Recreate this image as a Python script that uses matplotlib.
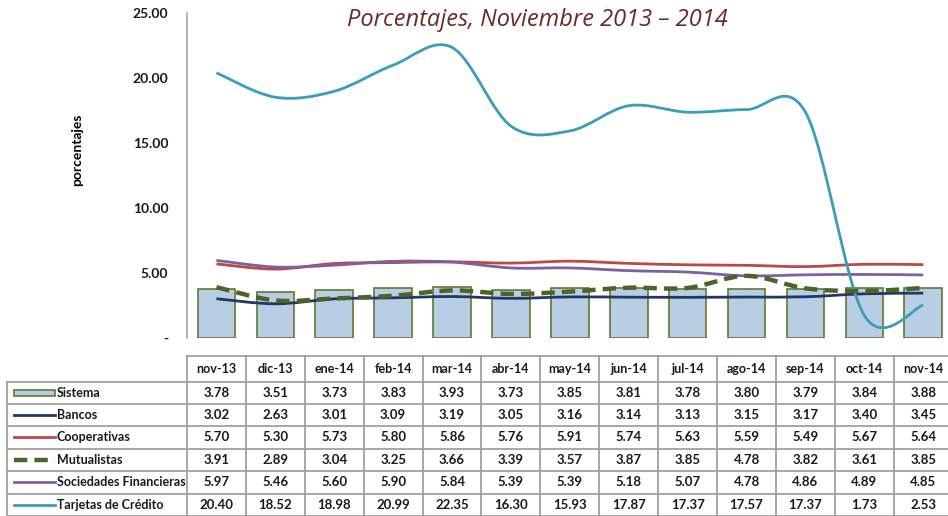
import matplotlib
matplotlib.use("Agg")
import matplotlib.pyplot as plt
import numpy as np
from matplotlib.path import Path
from matplotlib.patches import PathPatch, Rectangle
from matplotlib.lines import Line2D

months = ["nov-13", "dic-13", "ene-14", "feb-14", "mar-14", "abr-14", "may-14",
          "jun-14", "jul-14", "ago-14", "sep-14", "oct-14", "nov-14"]
sistema = [3.78, 3.51, 3.73, 3.83, 3.93, 3.73, 3.85, 3.81, 3.78, 3.80, 3.79, 3.84, 3.88]
bancos = [3.02, 2.63, 3.01, 3.09, 3.19, 3.05, 3.16, 3.14, 3.13, 3.15, 3.17, 3.40, 3.45]
cooperativas = [5.70, 5.30, 5.73, 5.80, 5.86, 5.76, 5.91, 5.74, 5.63, 5.59, 5.49, 5.67, 5.64]
mutualistas = [3.91, 2.89, 3.04, 3.25, 3.66, 3.39, 3.57, 3.87, 3.85, 4.78, 3.82, 3.61, 3.85]
sociedades = [5.97, 5.46, 5.60, 5.90, 5.84, 5.39, 5.39, 5.18, 5.07, 4.78, 4.86, 4.89, 4.85]
tarjetas = [20.40, 18.52, 18.98, 20.99, 22.35, 16.30, 15.93, 17.87, 17.37, 17.57, 17.37, 1.73, 2.53]
series_names = ["Sistema", "Bancos", "Cooperativas", "Mutualistas",
                "Sociedades Financieras", "Tarjetas de Crédito"]
yticks = [0, 5, 10, 15, 20, 25]
ytick_labels = ["-", "5.00", "10.00", "15.00", "20.00", "25.00"]

plt.rcParams['font.family'] = ['Lato', 'DejaVu Sans']

W, H = 948, 516
fig = plt.figure(figsize=(W / 100, H / 100), dpi=100)

# axes geometry in pixels
x0, colw = 187, 58.9
ncol = len(months)
ax_top, ax_bot = 13, 338
axw = ncol * colw
ax = fig.add_axes([x0 / W, 1 - ax_bot / H, axw / W, (ax_bot - ax_top) / H])
ax.set_xlim(-0.5, ncol - 0.5)
ax.set_ylim(0, 25)
for s in ["top", "right", "bottom"]:
    ax.spines[s].set_visible(False)
ax.spines["left"].set_color("#A6A6A6")
ax.spines["left"].set_linewidth(1.2)
ax.set_xticks([])
ax.set_yticks(yticks)
ax.set_yticklabels(ytick_labels, fontsize=10, fontweight="bold", color="#1a1a1a")
ax.tick_params(axis="y", length=0, pad=13.5)
ax.set_ylabel("porcentajes", fontsize=10, fontweight="bold")
ax.yaxis.set_label_coords(-104 / axw, (ax_bot - 150) / (ax_bot - ax_top))
ax.patch.set_alpha(0)

xs = np.arange(ncol)
bar_face, bar_edge = "#B9CDE5", "#5E7A32"
ax.bar(xs, sistema, width=0.64, color=bar_face, edgecolor=bar_edge, linewidth=1.2, zorder=1)


def smooth_path(x, y):
    pts = np.column_stack([x, y]).astype(float)
    n = len(pts)
    verts = [pts[0]]
    codes = [Path.MOVETO]
    for i in range(n - 1):
        p0 = pts[max(i - 1, 0)]
        p1 = pts[i]
        p2 = pts[i + 1]
        p3 = pts[min(i + 2, n - 1)]
        c1 = p1 + (p2 - p0) / 6.0
        c2 = p2 - (p3 - p1) / 6.0
        verts += [c1, c2, p2]
        codes += [Path.CURVE4] * 3
    return Path(verts, codes)


line_styles = [
    (bancos, "#1F3864", "-", 2.0),
    (cooperativas, "#B94A48", "-", 2.0),
    (sociedades, "#7E60A0", "-", 2.0),
    (tarjetas, "#3A9EBB", "-", 2.0),
    (mutualistas, "#4F6228", (0, (3, 1.6)), 3.2),
]
for vals, col, ls, lw in line_styles:
    p = PathPatch(smooth_path(xs, vals), fill=False, edgecolor=col, linestyle=ls,
                  linewidth=lw, zorder=3, capstyle="butt")
    ax.add_patch(p)

fig.text(537 / W, 1 - 20 / H, "Porcentajes, Noviembre 2013 \u2013 2014", fontsize=17,
         style="italic", color="#6B2A2A", ha="center", va="center",
         family=["Open Sans", "DejaVu Sans"])

# ---- data table ----
tax = fig.add_axes([0, 0, 1, 1])
tax.set_xlim(0, W)
tax.set_ylim(H, 0)
tax.axis("off")
grid_col = "#A0A0A0"
glw = 1.3
row_edges = [356, 382, 403.5, 426, 448.5, 471, 493.5, 516]
col_edges = [x0 + i * colw for i in range(ncol + 1)]
tax.plot([x0, col_edges[-1]], [row_edges[0]] * 2, color=grid_col, lw=glw)
for r in row_edges[1:]:
    tax.plot([7, col_edges[-1]], [r, r], color=grid_col, lw=glw)
for c in col_edges:
    tax.plot([c, c], [row_edges[0], row_edges[-1]], color=grid_col, lw=glw)
tax.plot([7, 7], [row_edges[1], row_edges[-1]], color=grid_col, lw=glw)

for i, m in enumerate(months):
    cx = x0 + (i + 0.5) * colw
    tax.text(cx, (row_edges[0] + row_edges[1]) / 2, m, ha="center", va="center",
             fontsize=9, fontweight="bold", color="#1a1a1a")

table_rows = [sistema, bancos, cooperativas, mutualistas, sociedades, tarjetas]
for r, (name, vals) in enumerate(zip(series_names, table_rows)):
    cy = (row_edges[r + 1] + row_edges[r + 2]) / 2
    for i, v in enumerate(vals):
        cx = x0 + (i + 0.5) * colw
        tax.text(cx, cy, f"{v:.2f}", ha="center", va="center", fontsize=9.5,
                 fontweight="bold", color="#1a1a1a")
    tax.text(57, cy, name, ha="left", va="center", fontsize=9,
             fontweight="bold", color="#1a1a1a")

# legend keys
key_y = [(row_edges[k] + row_edges[k + 1]) / 2 for k in range(1, 7)]
tax.add_patch(Rectangle((14, key_y[0] - 3), 41, 6, facecolor=bar_face,
                        edgecolor=bar_edge, lw=1.2))
key_styles = [("#1F3864", "-", 2.0), ("#B94A48", "-", 2.0), ("#4F6228", (0, (3, 1.6)), 3.2),
              ("#7E60A0", "-", 2.0), ("#3A9EBB", "-", 2.0)]
for k, (col, ls, lw) in zip([1, 2, 3, 4, 5], key_styles):
    tax.add_line(Line2D([14, 55], [key_y[k], key_y[k]], color=col, linestyle=ls, lw=lw))

fig.savefig("out.png", dpi=100)
